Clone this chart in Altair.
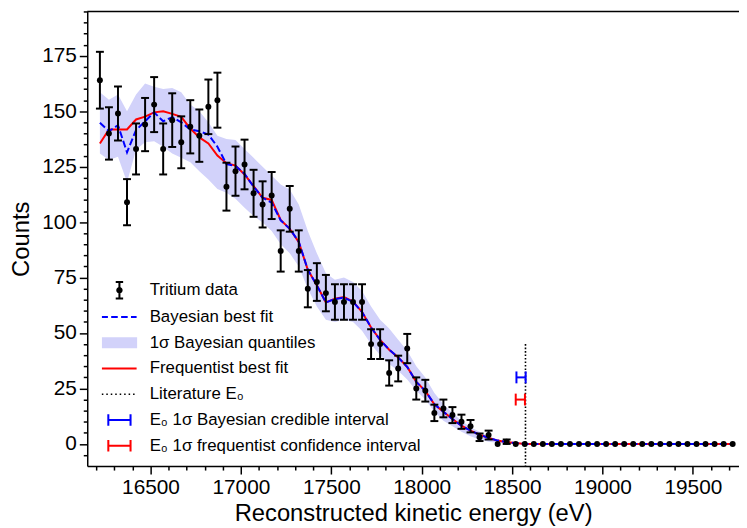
import math
import altair as alt
import pandas as pd

# ---------------- data ----------------
energy = [16220, 16270, 16320, 16370, 16420, 16470, 16520, 16570, 16620, 16670,
          16720, 16770, 16820, 16870, 16920, 16970, 17020, 17070, 17120, 17170,
          17220, 17270, 17320, 17370, 17420, 17470, 17520, 17570, 17620, 17670,
          17720, 17770, 17820, 17870, 17920, 17970, 18020, 18070, 18120, 18170,
          18220, 18270, 18320, 18370, 18420, 18470, 18520, 18570, 18620, 18670,
          18720, 18770, 18820, 18870, 18920, 18970, 19020, 19070, 19120, 19170,
          19220, 19270, 19320, 19370, 19420, 19470, 19520, 19570, 19620, 19670,
          19720]

counts = [164, 140, 149, 109, 133, 144, 153, 133, 146, 136,
          143, 139, 152, 155, 116, 123, 126, 113, 108, 112,
          87, 106, 87, 70, 73, 68, 64, 64, 64, 64,
          45, 45, 32, 34, 43, 25, 24, 14, 16, 13,
          10, 8, 3, 4, 0, 1, 0, 0, 0, 0,
          0, 0, 0, 0, 0, 0, 0, 0, 0, 0,
          0, 0, 0, 0, 0, 0, 0, 0, 0, 0,
          0]

errors = [12.8, 11.8, 12.2, 10.4, 11.5, 12.0, 12.4, 11.5, 12.1, 11.7,
          12.0, 11.8, 12.3, 12.4, 10.8, 11.1, 11.2, 10.6, 10.4, 10.6,
          9.3, 10.3, 9.3, 8.4, 8.5, 8.2, 8.0, 8.0, 8.0, 8.0,
          6.7, 6.7, 5.7, 5.8, 6.6, 5.0, 4.9, 3.7, 4.0, 3.6,
          3.2, 2.8, 1.7, 2.0, 0, 1.0, 0, 0, 0, 0,
          0, 0, 0, 0, 0, 0, 0, 0, 0, 0,
          0, 0, 0, 0, 0, 0, 0, 0, 0, 0,
          0]

freq_fit = [135.5, 141.8, 141.8, 141.8, 146.3, 147.6, 149.5, 150.0, 148.8, 147.5,
            142.2, 138.2, 135.5, 130.0, 126.6, 125.5, 121.5, 116.2, 111.0, 110.0,
            101.0, 97.0, 91.0, 78.5, 71.5, 63.8, 65.5, 66.2, 64.2, 59.5,
            52.5, 46.9, 42.5, 39.0, 34.7, 28.0, 23.9, 17.9, 14.5, 11.2,
            8.2, 6.0, 4.2, 2.7, 1.5, 0.8, 0.4, 0, 0, 0,
            0, 0, 0, 0, 0, 0, 0, 0, 0, 0,
            0, 0, 0, 0, 0, 0, 0, 0, 0, 0,
            0]

bayes_fit = [144.8, 141.0, 143.7, 131.5, 141.5, 145.5, 149.5, 145.5, 147.4, 145.0,
             141.8, 141.0, 139.5, 134.0, 126.2, 125.4, 121.8, 116.0, 111.0, 108.8,
             100.8, 97.0, 91.2, 78.5, 71.5, 63.8, 65.3, 66.0, 64.0, 59.5,
             52.5, 46.9, 42.5, 39.0, 34.7, 28.0, 23.9, 17.9, 14.5, 11.2,
             8.2, 6.0, 4.2, 2.7, 1.5, 0.8, 0.4, 0, 0, 0,
             0, 0, 0, 0, 0, 0, 0, 0, 0, 0,
             0, 0, 0, 0, 0, 0, 0, 0, 0, 0,
             0]

band_lo = [131, 128, 129.5, 118, 132.6, 136, 136.5, 134, 131, 129,
           127, 123, 119.2, 115, 113.2, 110.5, 106.5, 102.8, 99.8, 96,
           90, 86, 80, 70, 62, 56, 55, 56, 55, 51,
           45, 40, 36, 33, 29, 24, 20, 14.5, 10.5, 8,
           5.5, 3.5, 2, 1, 0.5, 0, 0, 0, 0, 0,
           0, 0, 0, 0, 0, 0, 0, 0, 0, 0,
           0, 0, 0, 0, 0, 0, 0, 0, 0, 0,
           0]

band_hi = [158.6, 155.2, 157.5, 150, 157.5, 162.5, 161, 160, 160.5, 158.6,
           153, 150, 145, 139, 137.5, 137, 133, 129, 125, 121,
           117, 114.7, 108, 96, 86, 77, 74, 75, 73, 69,
           62, 56, 52, 47, 42, 35, 30, 23, 18, 14,
           10.5, 7.5, 5.5, 3.5, 2, 1.2, 0.6, 0, 0, 0,
           0, 0, 0, 0, 0, 0, 0, 0, 0, 0,
           0, 0, 0, 0, 0, 0, 0, 0, 0, 0,
           0]

literature_E0 = [18574]
literature_top = [45]
interval_names = ["Bayesian", "Frequentist"]
interval_lo = [18524, 18520]
interval_hi = [18575, 18571]
interval_y = [30, 20]

legend_labels = ["Tritium data", "Bayesian best fit", "1σ Bayesian quantiles",
                 "Frequentist best fit", "Literature E₀",
                 "E₀ 1σ Bayesian credible interval",
                 "E₀ 1σ frequentist confidence interval"]

x_major = [16500, 17000, 17500, 18000, 18500, 19000, 19500]
x_minor = [16200, 16300, 16400, 16600, 16700, 16800, 16900, 17100, 17200, 17300, 17400,
           17600, 17700, 17800, 17900, 18100, 18200, 18300, 18400, 18600, 18700, 18800,
           18900, 19100, 19200, 19300, 19400, 19600, 19700]
y_major = [0, 25, 50, 75, 100, 125, 150, 175]
y_minor = [-5, 5, 10, 15, 20, 30, 35, 40, 45, 55, 60, 65, 70, 80, 85, 90, 95,
           105, 110, 115, 120, 130, 135, 140, 145, 155, 160, 165, 170, 180, 185, 190, 195]

# ---------------- styles ----------------
FONT = "Liberation Sans"
BLUE = "#0000ff"
RED = "#ff0000"
BAND = "#d2d2fa"
W, H = 658, 459
TICK_FS = 21


def rect(x0, y0, x1, y1):
    return f"M{x0},{y0}H{x1}V{y1}H{x0}Z"


def circle(r, n=16):
    pts = [(r * math.cos(2 * math.pi * k / n), r * math.sin(2 * math.pi * k / n)) for k in range(n)]
    return "M" + "L".join(f"{px:.3f},{py:.3f}" for px, py in pts) + "Z"


t = 0.12
sym_data = (rect(-t, -0.98, t, 0.98) + rect(-0.44, -0.98 - t, 0.44, -0.98 + t)
            + rect(-0.44, 0.98 - t, 0.44, 0.98 + t) + circle(0.38))
sym_dash = (rect(-2.08, -t, -1.37, t) + rect(-0.98, -t, -0.2, t)
            + rect(0.2, -t, 0.98, t) + rect(1.37, -t, 2.04, t))
sym_patch = rect(-2.08, -0.66, 2.1, 0.66)
sym_line = rect(-2.08, -t, 2.04, t)
sym_dot = "".join(rect(round(-2.0 + 0.53 * k - 0.09, 3), -0.09, round(-2.0 + 0.53 * k + 0.09, 3), 0.09)
                  for k in range(8))
sym_int = (rect(-1.32, -t, 1.32, t) + rect(-1.44, -0.68, -1.2, 0.68) + rect(1.2, -0.68, 1.44, 0.68))
legend_paths = [sym_data, sym_dash, sym_patch, sym_line, sym_dot, sym_int, sym_int]
legend_colors = ["#000000", BLUE, BAND, RED, "#000000", BLUE, RED]

# ---------------- tables ----------------
df = pd.DataFrame({"E": energy, "N": counts, "err": errors,
                   "freq": freq_fit, "bayes": bayes_fit,
                   "blo": band_lo, "bhi": band_hi})
df["lo"] = df["N"] - df["err"]
df["hi"] = df["N"] + df["err"]

lit_df = pd.DataFrame({"E0": literature_E0, "top": literature_top})
int_df = pd.DataFrame({"name": interval_names, "lo": interval_lo, "hi": interval_hi, "y": interval_y})
leg_df = pd.DataFrame({"series": legend_labels,
                       "E": [float("nan")] * len(legend_labels),
                       "N": [float("nan")] * len(legend_labels)})

xscale = alt.Scale(domain=[16150, 19755], nice=False, zero=False)
yscale = alt.Scale(domain=[-10, 195], nice=False, zero=False)

xaxis = alt.Axis(values=x_major, format="d", tickSize=8, labelPadding=3, titlePadding=4,
                 orient="bottom", labelFlush=False)
yaxis = alt.Axis(values=y_major, format="d", tickSize=8, labelPadding=3, titlePadding=8,
                 orient="left")
xaxis_minor = alt.Axis(values=x_minor, labels=False, tickSize=4, domain=False, orient="bottom", title=None)
yaxis_minor = alt.Axis(values=y_minor, labels=False, tickSize=4, domain=False, orient="left", title=None)

XT = "Reconstructed kinetic energy (eV)"
YT = "Counts"


def X(f):
    return alt.X(f"{f}:Q", scale=xscale, axis=xaxis, title=XT)


def Y(f):
    return alt.Y(f"{f}:Q", scale=yscale, axis=yaxis, title=YT)


base = alt.Chart(df)

band = base.mark_area(color=BAND, opacity=1, interpolate="linear").encode(
    x=X("E"), y=Y("blo"), y2="bhi")

freq_line = base.mark_line(color=RED, strokeWidth=2).encode(x=X("E"), y=Y("freq"))
bayes_line = base.mark_line(color=BLUE, strokeWidth=2, strokeDash=[7, 3]).encode(
    x=X("E"), y=Y("bayes"))

err_rules = base.mark_rule(color="black", strokeWidth=2).transform_filter(
    "datum.err > 0").encode(x=X("E"), y=Y("lo"), y2="hi")
err_caps = base.mark_tick(color="black", orient="horizontal", size=8, thickness=2, opacity=1).transform_filter(
    "datum.err > 0").transform_fold(["lo", "hi"], as_=["end", "val"]).encode(x=X("E"), y=Y("val"))
dots = base.mark_circle(color="black", size=36, opacity=1).encode(x=X("E"), y=Y("N"))

lit_line = alt.Chart(lit_df).mark_rule(color="black", strokeWidth=1.6, strokeDash=[1.6, 1.9]).encode(
    x=X("E0"), y=Y("top"), y2=alt.value(H))

layers = [band, freq_line, bayes_line, err_rules, err_caps, dots, lit_line]

for name, col in zip(interval_names, [BLUE, RED]):
    sub = alt.Chart(int_df).transform_filter(alt.datum.name == name)
    layers.append(sub.mark_rule(color=col, strokeWidth=2).encode(x=X("lo"), x2="hi", y=Y("y")))
    layers.append(sub.mark_tick(color=col, orient="vertical", size=12, thickness=2, opacity=1)
                  .transform_fold(["lo", "hi"], as_=["end", "val"]).encode(x=X("val"), y=Y("y")))

top_spine = alt.Chart(lit_df).mark_rule(color="black", strokeWidth=1.5).encode(
    x=alt.value(0), x2=alt.value(W), y=alt.value(0))
layers.append(top_spine)

leg = alt.Legend(title=None, orient="none", legendX=24, legendY=273,
                 labelFont=FONT, labelFontSize=17, labelColor="black", labelLimit=0,
                 labelOffset=22, rowPadding=8, padding=0,
                 symbolSize=289, symbolStrokeWidth=0, symbolOpacity=1)
# legend-only layer (no visible marks) that also carries the minor ticks
legend_layer = alt.Chart(leg_df).mark_point(filled=True, opacity=1, size=289).encode(
    x=alt.X("E:Q", scale=xscale, axis=xaxis_minor),
    y=alt.Y("N:Q", scale=yscale, axis=yaxis_minor),
    color=alt.Color("series:N", scale=alt.Scale(domain=legend_labels, range=legend_colors), legend=leg),
    shape=alt.Shape("series:N", scale=alt.Scale(domain=legend_labels, range=legend_paths), legend=leg),
)

main = alt.layer(*layers)

chart = alt.layer(main, legend_layer).resolve_axis(x="independent", y="independent").properties(
    width=W, height=H,
    padding={"left": 80, "top": 1, "right": 0, "bottom": 60},
    autosize=alt.AutoSizeParams(type="none"),
).configure_view(stroke=None).configure_axis(
    grid=False, domainColor="black", domainWidth=1.5, tickColor="black", tickWidth=1.5,
    labelColor="black", titleColor="black", labelFont=FONT, titleFont=FONT,
    labelFontSize=TICK_FS, titleFontSize=24, titleFontWeight="normal",
)

chart.save("out.html", embed_options={"renderer": "svg", "actions": False})
